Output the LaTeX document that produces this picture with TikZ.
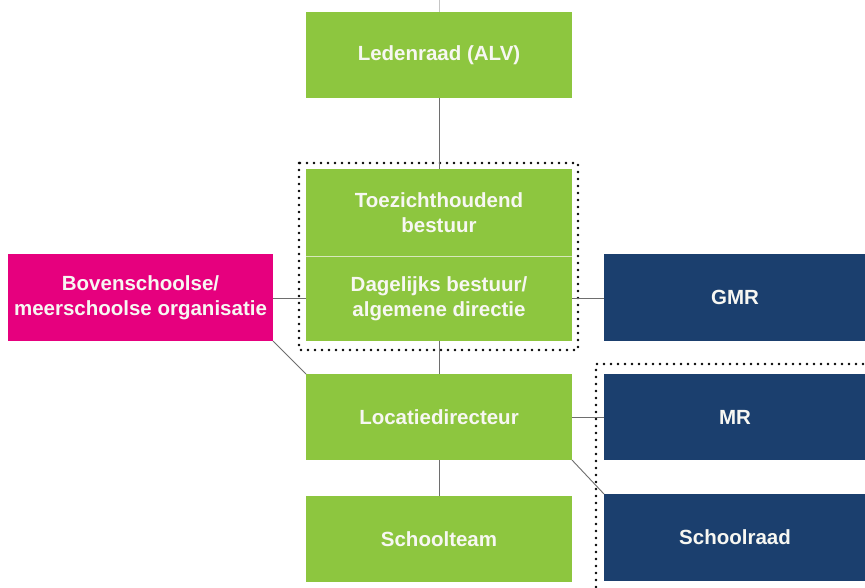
\documentclass[tikz,border=0pt]{standalone}
\usepackage{fontspec}
\setmainfont{Liberation Sans}
\definecolor{lgreen}{HTML}{8DC63F}
\definecolor{lpink}{HTML}{E6007E}
\definecolor{dblue}{HTML}{1B3F6E}
\definecolor{ltext}{HTML}{F7F7F2}
\definecolor{conn}{HTML}{6E6E6E}
\begin{document}
\begin{tikzpicture}[x=1pt,y=-1pt,
  box/.style={inner sep=0pt,outer sep=0pt,align=center,text=ltext,
    font=\fontsize{20.5}{25}\selectfont\bfseries},
  gbox/.style={box,fill=lgreen,minimum width=266pt,minimum height=86pt},
  pbox/.style={box,fill=lpink,minimum width=265pt,minimum height=87pt},
  bbox/.style={box,fill=dblue,minimum width=262pt,minimum height=86pt},
  link/.style={draw=conn,line width=0.9pt},
  dotline/.style={draw=black,line width=2.6pt,line cap=round,dash pattern=on 0pt off 7pt}]
\useasboundingbox (0,0) rectangle (865,587);
\fill[white] (0,0) rectangle (865,587);
% nodes
\node[gbox] (alv) at (439,55) {Ledenraad (ALV)};
\node[gbox,minimum height=87pt] (tzb) at (439,212.5) {Toezichthoudend\\bestuur};
\node[gbox,minimum height=85pt] (dbd) at (439,298.5) {Dagelijks bestuur/\\algemene directie};
\node[gbox] (loc) at (439,417) {Locatiedirecteur};
\node[gbox] (st) at (439,539) {Schoolteam};
\node[pbox] (bov) at (140.5,297.5) {Bovenschoolse/\\meerschoolse organisatie};
\node[bbox,minimum height=87pt] (gmr) at (735,297.5) {GMR};
\node[bbox] (mr) at (735,417) {MR};
\node[bbox,minimum height=87pt] (sr) at (735,537.5) {Schoolraad};
% separator inside the board box
\draw[draw=ltext!70!lgreen,line width=0.8pt] (tzb.south west) -- (tzb.south east);
% dotted frames
\draw[dotline] (299,163) rectangle (578,350);
\draw[dotline] (596,587) -- (596,364) -- (866,364);
% connectors
\coordinate (top) at (439,0);
\draw[draw=conn!40,line width=0.6pt] (top) -- (alv.north);
\draw[link] (alv.south) -- (tzb.north);
\draw[link] (dbd.south) -- (loc.north);
\draw[link] (loc.south) -- (st.north);
\draw[link] (bov.east |- dbd.west) -- (dbd.west);
\draw[link] (dbd.east) -- (gmr.west |- dbd.east);
\draw[link] (bov.south east) -- (loc.north west);
\draw[link] (loc.east) -- (mr.west);
\draw[link] (loc.south east) -- (sr.north west);
\end{tikzpicture}
\end{document}
